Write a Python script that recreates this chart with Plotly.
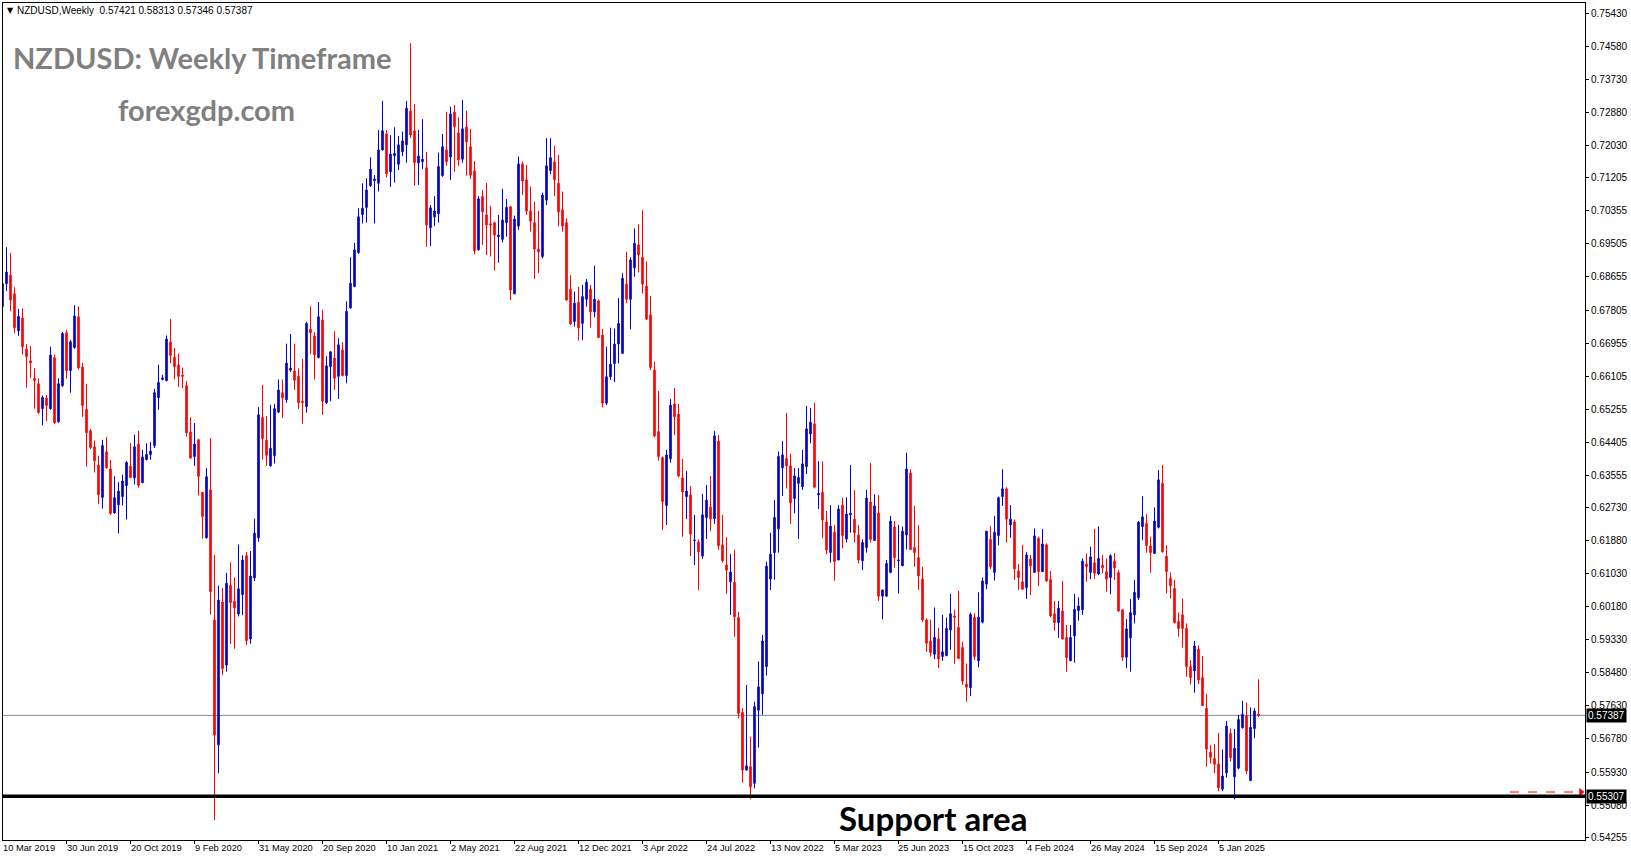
import pandas as pd
import plotly.graph_objects as go

# ---------------- data ----------------
symbol = "NZDUSD"
timeframe = "Weekly"
first_week = "2019-03-10"

open_ = [
    .6789, .6848, .6870, .6822, .6727, .6760, .6680, .6650, .6605, .6591,
    .6527, .6554, .6527, .6658, .6493, .6586, .6722, .6625, .6684, .6763,
    .6634, .6525, .6470, .6429, .6382, .6299, .6416, .6372, .6259, .6280,
    .6301, .6329, .6379, .6349, .6436, .6337, .6396, .6409, .6432, .6555,
    .6602, .6599, .6698, .6659, .6639, .6613, .6586, .6467, .6404, .6447,
    .6312, .6195, .6318, .5984, .5663, .6030, .5868, .6073, .6032, .5999,
    .6049, .6149, .5935, .6092, .6195, .6504, .6446, .6380, .6406, .6518,
    .6568, .6550, .6626, .6624, .6610, .6546, .6532, .6731, .6714, .6658,
    .6755, .6542, .6635, .6657, .6610, .6678, .6612, .6786, .6841, .6928,
    .7026, .7044, .7100, .7113, .7106, .7192, .7233, .7136, .7177, .7155,
    .7187, .7205, .7292, .7241, .7159, .7162, .7146, .6992, .7020, .7028,
    .7126, .7192, .7174, .7289, .7236, .7168, .7251, .7200, .7138, .6935,
    .7072, .7025, .7002, .7005, .6969, .6962, .7005, .7046, .6822, .6996,
    .7156, .7115, .7035, .7005, .6937, .6918, .7063, .7139, .7161, .7106,
    .7038, .7005, .6834, .6751, .6800, .6746, .6808, .6834, .6776, .6804,
    .6716, .6541, .6609, .6643, .6693, .6669, .6847, .6808, .6889, .6948,
    .6916, .6842, .6768, .6626, .6468, .6401, .6278, .6398, .6539, .6513,
    .6349, .6301, .6305, .6188, .6184, .6148, .6247, .6274, .6244, .6444,
    .6177, .6125, .6082, .6081, .5990, .5747, .5598, .5607, .5564, .5752,
    .5794, .5864, .6089, .6157, .6218, .6375, .6399, .6380, .6296, .6335,
    .6326, .6378, .6462, .6488, .6305, .6312, .6236, .6157, .6209, .6138,
    .6279, .6192, .6254, .6243, .6202, .6136, .6170, .6287, .6188, .6259,
    .6045, .6045, .6106, .6223, .6136, .6123, .6202, .6362, .6170, .6144,
    .6089, .5984, .5930, .5896, .5935, .5890, .5892, .5958, .5994, .5965,
    .5913, .5819, .5810, .5991, .5879, .5978, .6076, .6191, .6106, .6201,
    .6301, .6321, .6228, .6236, .6110, .6082, .6067, .6141, .6106, .6194,
    .6108, .6177, .6088, .6000, .5977, .6007, .5939, .5879, .5943, .6008,
    .6010, .6128, .6106, .6131, .6102, .6125, .6108, .6093, .6135, .6106,
    .6010, .5888, .5938, .5997, .6041, .6224, .6232, .6174, .6155, .6222,
    .6335, .6148, .6091, .6065, .5980, .5997, .5962, .5864, .5853, .5909,
    .5836, .5757, .5644, .5628, .5614, .5549, .5591, .5692, .5581, .5603,
    .5707, .5738, .5571, .5705, .57421,
]
high = [
    .6863, .6942, .6927, .6839, .6783, .6785, .6693, .6688, .6631, .6605,
    .6561, .6562, .6686, .6666, .6605, .6724, .6729, .6704, .6793, .6790,
    .6645, .6591, .6475, .6445, .6406, .6447, .6454, .6395, .6353, .6338,
    .6357, .6392, .6438, .6460, .6470, .6421, .6438, .6441, .6578, .6640,
    .6614, .6715, .6757, .6683, .6668, .6632, .6598, .6505, .6490, .6449,
    .6312, .6374, .6451, .6151, .6072, .6066, .6105, .6132, .6093, .6178,
    .6150, .6159, .6161, .6244, .6531, .6588, .6508, .6537, .6539, .6602,
    .6602, .6694, .6719, .6694, .6630, .6655, .6750, .6790, .6724, .6801,
    .6781, .6662, .6675, .6726, .6708, .6698, .6803, .6916, .6953, .7042,
    .7106, .7119, .7173, .7127, .7243, .7318, .7243, .7230, .7250, .7228,
    .7239, .7318, .7466, .7310, .7243, .7271, .7187, .7050, .7073, .7185,
    .7233, .7290, .7303, .7307, .7275, .7320, .7293, .7246, .7163, .7073,
    .7089, .7107, .7048, .7008, .7025, .7092, .7066, .7048, .7023, .7175,
    .7162, .7153, .7098, .7059, .7035, .7082, .7222, .7222, .7202, .7179,
    .7085, .7016, .6870, .6828, .6840, .6845, .6860, .6845, .6894, .6808,
    .6732, .6686, .6735, .6733, .6811, .6875, .6930, .6916, .6990, .7001,
    .7037, .6905, .6817, .6648, .6572, .6404, .6421, .6552, .6580, .6539,
    .6398, .6367, .6328, .6254, .6191, .6308, .6331, .6354, .6470, .6459,
    .6254, .6197, .6153, .6164, .6004, .5757, .5817, .5684, .5774, .5877,
    .5945, .6134, .6208, .6292, .6417, .6444, .6516, .6411, .6374, .6374,
    .6421, .6534, .6529, .6542, .6392, .6392, .6264, .6279, .6228, .6279,
    .6298, .6299, .6382, .6318, .6228, .6191, .6318, .6387, .6307, .6305,
    .6061, .6138, .6251, .6238, .6228, .6224, .6414, .6371, .6277, .6228,
    .6121, .5988, .5985, .6016, .5964, .5997, .5990, .6051, .6010, .6059,
    .5928, .5872, .6003, .6001, .6055, .6093, .6212, .6225, .6251, .6301,
    .6371, .6325, .6279, .6242, .6127, .6177, .6159, .6151, .6219, .6198,
    .6218, .6181, .6110, .6033, .6033, .6084, .5971, .5971, .6051, .6042,
    .6142, .6155, .6172, .6218, .6224, .6151, .6142, .6153, .6156, .6112,
    .6011, .5986, .6038, .6087, .6238, .6302, .6256, .6198, .6273, .6369,
    .6382, .6176, .6106, .6087, .6003, .6039, .5975, .5881, .5930, .5918,
    .5891, .5794, .5662, .5665, .5694, .5651, .5724, .5705, .5704, .5740,
    .5776, .5772, .5759, .5757, .58313,
]
low = [
    .6780, .6829, .6777, .6721, .6714, .6666, .6581, .6606, .6527, .6514,
    .6484, .6495, .6524, .6488, .6491, .6583, .6604, .6568, .6681, .6627,
    .6506, .6378, .6423, .6363, .6282, .6270, .6373, .6254, .6257, .6206,
    .6278, .6242, .6350, .6332, .6324, .6335, .6394, .6396, .6426, .6524,
    .6600, .6597, .6644, .6602, .6583, .6580, .6455, .6399, .6380, .6304,
    .6193, .6193, .5998, .5469, .5590, .5842, .5851, .5922, .5910, .5993,
    .5996, .5919, .5923, .6084, .6185, .6396, .6380, .6378, .6386, .6516,
    .6503, .6542, .6621, .6575, .6526, .6488, .6517, .6667, .6602, .6656,
    .6511, .6539, .6546, .6575, .6552, .6610, .6592, .6784, .6839, .6925,
    .7003, .7005, .7097, .7003, .7085, .7190, .7121, .7097, .7108, .7140,
    .7176, .7159, .7223, .7100, .7102, .7143, .6943, .6945, .6996, .7005,
    .7123, .7151, .7115, .7136, .7151, .7159, .7126, .7117, .6924, .6933,
    .6948, .6922, .6918, .6882, .6902, .6954, .6969, .6806, .6822, .6986,
    .7076, .7025, .6982, .6860, .6876, .6913, .7050, .7130, .7074, .6996,
    .6982, .6804, .6742, .6738, .6702, .6703, .6789, .6735, .6762, .6708,
    .6530, .6536, .6601, .6595, .6643, .6669, .6798, .6731, .6866, .6877,
    .6823, .6755, .6626, .6453, .6393, .6215, .6228, .6388, .6459, .6350,
    .6198, .6243, .6148, .6125, .6061, .6141, .6192, .6212, .6231, .6164,
    .6131, .6051, .5997, .5941, .5731, .5566, .5597, .5523, .5551, .5656,
    .5740, .5841, .6061, .6087, .6157, .6303, .6322, .6231, .6258, .6192,
    .6318, .6359, .6438, .6322, .6269, .6194, .6153, .6131, .6085, .6138,
    .6168, .6183, .6208, .6183, .6129, .6112, .6157, .6183, .6188, .6033,
    .5985, .6045, .6104, .6118, .6052, .6123, .6165, .6164, .6121, .6061,
    .5979, .5902, .5890, .5883, .5860, .5879, .5892, .5907, .5871, .5883,
    .5817, .5774, .5788, .5881, .5862, .5975, .6063, .6115, .6085, .6176,
    .6277, .6183, .6195, .6087, .6061, .6061, .6038, .6048, .6106, .6071,
    .6108, .6082, .5991, .5956, .5938, .5934, .5851, .5879, .5874, .5982,
    .5997, .6082, .6089, .6089, .6099, .6104, .6057, .6050, .6087, .6005,
    .5879, .5860, .5851, .5975, .6035, .6189, .6157, .6105, .6155, .6219,
    .6157, .6052, .6039, .5975, .5941, .5913, .5838, .5818, .5797, .5819,
    .5763, .5607, .5615, .5590, .5544, .5544, .5579, .5620, .5523, .5600,
    .5705, .5588, .5571, .5680, .57346,
]
close = [
    .6848, .6878, .6806, .6735, .6764, .6686, .6661, .6645, .6599, .6517,
    .6556, .6535, .6665, .6491, .6591, .6720, .6625, .6699, .6765, .6632,
    .6535, .6465, .6427, .6393, .6306, .6432, .6375, .6258, .6298, .6315,
    .6341, .6389, .6350, .6429, .6330, .6403, .6409, .6418, .6568, .6594,
    .6606, .6706, .6664, .6635, .6610, .6610, .6465, .6400, .6436, .6353,
    .6250, .6352, .6057, .5688, .6035, .5859, .6078, .6029, .6015, .6064,
    .6138, .5931, .6097, .6207, .6511, .6450, .6407, .6425, .6527, .6575,
    .6555, .6644, .6631, .6600, .6543, .6543, .6746, .6722, .6665, .6763,
    .6546, .6637, .6673, .6605, .6691, .6612, .6777, .6849, .6935, .7020,
    .7042, .7089, .7142, .7117, .7192, .7241, .7131, .7181, .7183, .7205,
    .7215, .7299, .7230, .7159, .7176, .7168, .6999, .7043, .7035, .7149,
    .7200, .7162, .7284, .7252, .7166, .7246, .7213, .7127, .6933, .7066,
    .7033, .6999, .6999, .6973, .6973, .7012, .7044, .6832, .7014, .7156,
    .7112, .7035, .7009, .6937, .6930, .7076, .7151, .7172, .7115, .7033,
    .6996, .6806, .6745, .6798, .6735, .6815, .6852, .6776, .6808, .6710,
    .6541, .6609, .6641, .6693, .6746, .6862, .6808, .6909, .6952, .6922,
    .6847, .6757, .6633, .6457, .6404, .6288, .6408, .6536, .6506, .6354,
    .6313, .6315, .6205, .6189, .6159, .6254, .6292, .6244, .6457, .6175,
    .6136, .6112, .6107, .5992, .5744, .5598, .5609, .5555, .5761, .5812,
    .5930, .6122, .6153, .6247, .6404, .6408, .6380, .6285, .6354, .6350,
    .6385, .6475, .6492, .6325, .6309, .6241, .6164, .6225, .6134, .6269,
    .6201, .6256, .6258, .6208, .6138, .6183, .6297, .6191, .6277, .6045,
    .6061, .6129, .6238, .6144, .6138, .6212, .6372, .6165, .6157, .6097,
    .5984, .5924, .5900, .5939, .5884, .5902, .5962, .6000, .5991, .5885,
    .5827, .5811, .5998, .5890, .5991, .6084, .6212, .6121, .6209, .6298,
    .6321, .6243, .6243, .6115, .6093, .6063, .6151, .6123, .6200, .6108,
    .6179, .6084, .5994, .5977, .6014, .5935, .5887, .5939, .6011, .6020,
    .6135, .6121, .6146, .6104, .6142, .6118, .6089, .6149, .6118, .6007,
    .5888, .5961, .6003, .6055, .6235, .6249, .6175, .6157, .6238, .6344,
    .6159, .6108, .6072, .5977, .5962, .5962, .5864, .5836, .5917, .5830,
    .5764, .5652, .5631, .5613, .5553, .5583, .5711, .5630, .5654, .5728,
    .5741, .5596, .5708, .5750, .57387,
]

date_labels = [
    "10 Mar 2019", "30 Jun 2019", "20 Oct 2019", "9 Feb 2020", "31 May 2020",
    "20 Sep 2020", "10 Jan 2021", "2 May 2021", "22 Aug 2021", "12 Dec 2021",
    "3 Apr 2022", "24 Jul 2022", "13 Nov 2022", "5 Mar 2023", "25 Jun 2023",
    "15 Oct 2023", "4 Feb 2024", "26 May 2024", "15 Sep 2024", "5 Jan 2025",
]
label_every = 16  # bars between date labels

price_ticks = [
    0.75430, 0.74580, 0.73730, 0.72880, 0.72030, 0.71205, 0.70355, 0.69505,
    0.68655, 0.67805, 0.66955, 0.66105, 0.65255, 0.64405, 0.63555, 0.62730,
    0.61880, 0.61030, 0.60180, 0.59330, 0.58480, 0.57630, 0.56780, 0.55930,
    0.55080, 0.54255,
]
price_min, price_max = 0.54184, 0.75695

last_price = close[-1]
support_level = 0.55307
arrow_level = 0.55417
support_text = "Support area"
title_text = "NZDUSD: Weekly Timeframe"
site_text = "forexgdp.com"

# ---------------- layout geometry ----------------
W, H = 1631, 861
ML, MR, MT, MB = 3, 46, 3, 21
PW, PH = W - ML - MR, H - MT - MB
BAR_PX = 4.0          # pixels per weekly bar
BAR0_PX = -0.5        # centre of first bar relative to plot's left edge

dates = pd.date_range(first_week, periods=len(open_), freq="7D")
t0 = dates[0]


def px_date(px):
    return t0 + pd.Timedelta(weeks=(px - BAR0_PX) / BAR_PX)


def pxx(px):
    return (px - ML) / PW


def pxy(py):
    return (H - MB - py) / PH


BLUE = "#0000CD"
RED = "#FF0000"

fig = go.Figure()
fig.add_trace(go.Candlestick(
    x=dates, open=open_, high=high, low=low, close=close,
    increasing=dict(line=dict(color=BLUE, width=1), fillcolor=BLUE),
    decreasing=dict(line=dict(color=RED, width=1), fillcolor=RED),
    whiskerwidth=0, hoverinfo="skip", showlegend=False,
))

# red dashed arrow to the support price
arrow_x0 = px_date(1510 - ML)
arrow_x1 = px_date(1580 - ML)
fig.add_shape(type="line", xref="x", yref="y", x0=arrow_x0, x1=arrow_x1,
              y0=arrow_level, y1=arrow_level,
              line=dict(color=RED, width=1, dash="dash"))
fig.add_trace(go.Scatter(
    x=[px_date(1581 - ML)], y=[arrow_level], mode="markers",
    marker=dict(symbol="triangle-right", size=7, color=RED),
    hoverinfo="skip", showlegend=False, cliponaxis=False,
))

# current price line and support line
fig.add_shape(type="line", xref="paper", yref="y", x0=0, x1=1,
              y0=last_price, y1=last_price,
              line=dict(color="#7F8C97", width=1), layer="below")
fig.add_shape(type="line", xref="paper", yref="y", x0=0, x1=1,
              y0=support_level, y1=support_level,
              line=dict(color="black", width=3.5))

ann = []
# header
ann.append(dict(text="▼", x=pxx(5), y=pxy(10), xref="paper", yref="paper",
                xanchor="left", yanchor="middle", showarrow=False,
                font=dict(size=8, color="black", family="DejaVu Sans")))
hdr = "%s,%s\u00a0\u00a0%.5f %.5f %.5f %.5f" % (symbol, timeframe, open_[-1], high[-1], low[-1], close[-1])
ann.append(dict(text=hdr, x=pxx(15), y=pxy(10.5), xref="paper", yref="paper",
                xanchor="left", yanchor="middle", showarrow=False,
                font=dict(size=10, color="black", family="Liberation Sans")))
# watermark titles
ann.append(dict(text=title_text, x=pxx(11), y=pxy(58), xref="paper", yref="paper",
                xanchor="left", yanchor="middle", showarrow=False,
                font=dict(size=29, color="#808080", family="Lato", weight="bold")))
ann.append(dict(text=site_text, x=pxx(116), y=pxy(109), xref="paper", yref="paper",
                xanchor="left", yanchor="middle", showarrow=False,
                font=dict(size=29, color="#808080", family="Lato", weight="bold")))
ann.append(dict(text=support_text, x=pxx(837), y=pxy(818), xref="paper", yref="paper",
                xanchor="left", yanchor="middle", showarrow=False,
                font=dict(size=33, color="black", family="Lato", weight="bold")))
# price boxes on the axis
for val in (last_price, support_level):
    ann.append(dict(text="%.5f" % val, x=1, y=val, xref="paper", yref="y",
                    xanchor="left", yanchor="middle", xshift=1, showarrow=False,
                    bgcolor="black", borderpad=1,
                    font=dict(size=10, color="white", family="Liberation Sans")))
# date labels (placed in paper units so the first one is not hidden)
label_idx = list(range(0, len(dates), label_every))
label_dates = [dates[i] for i in label_idx]
for i, t in zip(label_idx, date_labels):
    ann.append(dict(text=t, x=(BAR0_PX + BAR_PX * i) / PW, y=0, xref="paper", yref="paper",
                    xanchor="left", yanchor="top", xshift=-2, yshift=-1,
                    showarrow=False,
                    font=dict(size=9.3, color="black", family="Liberation Sans")))

fig.update_layout(
    width=W, height=H, autosize=False,
    margin=dict(l=ML, r=MR, t=MT, b=MB, pad=0),
    paper_bgcolor="white", plot_bgcolor="white",
    showlegend=False, annotations=ann, boxgap=0.45,
    font=dict(family="Liberation Sans", size=10, color="black"),
    hovermode=False,
)
fig.update_xaxes(
    type="date", range=[px_date(0), px_date(PW)],
    rangeslider=dict(visible=False),
    showgrid=False, zeroline=False,
    showline=True, linecolor="black", linewidth=1, mirror=True,
    ticks="outside", ticklen=3, tickcolor="black",
    tickvals=label_dates, showticklabels=False,
)
fig.update_yaxes(
    side="right", range=[price_min, price_max],
    showgrid=False, zeroline=False,
    showline=True, linecolor="black", linewidth=1, mirror=True,
    ticks="outside", ticklen=3, tickcolor="black",
    tickvals=price_ticks, ticktext=["%.5f" % v for v in price_ticks],
    tickfont=dict(size=10, family="Liberation Sans", color="black"),
)

fig.write_html(
    "out.html",
    config={"displayModeBar": False},
    post_script="document.body.style.margin='0px';document.body.style.overflow='hidden';",
)
